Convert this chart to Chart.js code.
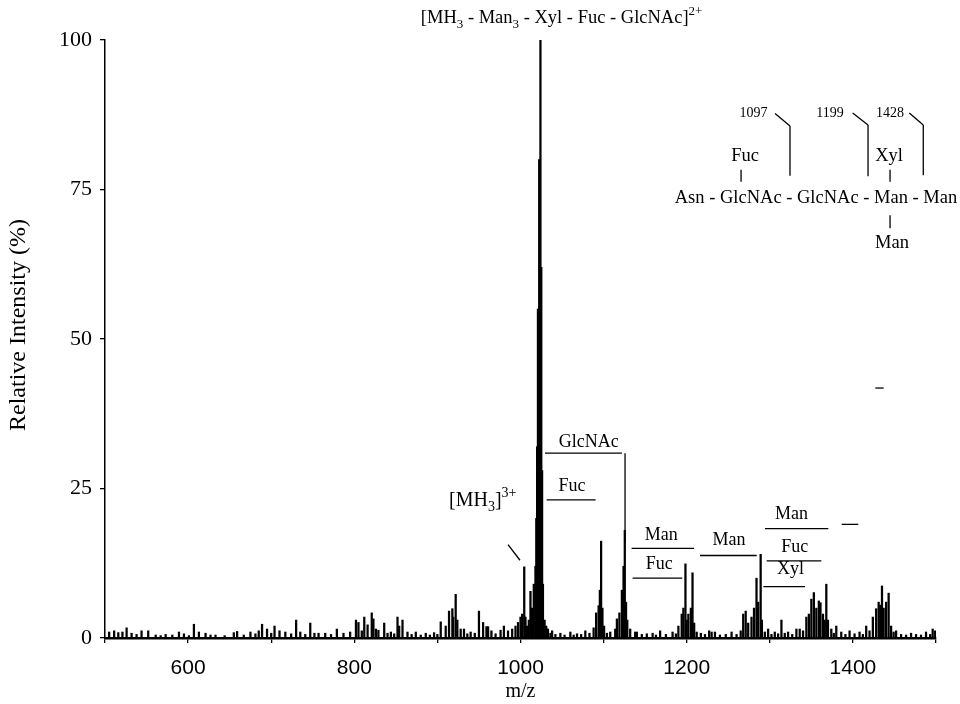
<!DOCTYPE html>
<html>
<head>
<meta charset="utf-8">
<script src="https://cdn.jsdelivr.net/npm/chart.js@4.4.1/dist/chart.umd.min.js"></script>
<style>
  html, body { margin: 0; padding: 0; background: #fff; }
  #wrap { width: 960px; height: 704px; position: relative; }
</style>
</head>
<body>
<div id="wrap"><canvas id="spectrum"></canvas></div>
<script>
// m/z of each peak
var peakMz = [
  505, 511, 516, 521, 526, 532, 538, 544, 552, 561, 567, 573, 581, 589, 595, 601,
  607, 613, 621, 627, 633, 644, 655, 659, 667, 675, 681, 685, 689, 695, 700, 704,
  710, 717, 724, 730, 735, 741, 747, 752, 757, 765, 772, 779, 787, 795, 802, 805,
  809, 812, 816, 821, 823, 826, 829, 836, 840, 844, 848, 852, 854, 858, 864, 869,
  874, 880, 886, 891, 896, 900, 904, 910, 914, 918, 919, 922, 924, 928, 932, 936,
  940, 945, 950, 955, 959, 961, 965, 970, 976, 980, 985, 990, 994, 997, 1000, 1002,
  1004.5, 1006, 1008, 1010, 1012, 1014, 1016, 1018, 1019, 1020, 1021, 1022.5, 1024, 1025, 1026, 1027,
  1029, 1031, 1033, 1036, 1038, 1042, 1048, 1053, 1060, 1064, 1068, 1073, 1078, 1083, 1088, 1091,
  1094, 1095.5, 1097, 1098.6, 1100.6, 1104, 1108, 1114, 1116, 1119, 1122, 1124, 1125.5, 1127, 1128.5, 1132,
  1138, 1140, 1146, 1152, 1159, 1163, 1168, 1175, 1183, 1187, 1190, 1194, 1196, 1198.5, 1200, 1202,
  1205, 1207, 1209, 1212, 1217, 1222, 1227, 1230, 1234, 1240, 1247, 1254, 1260, 1265, 1268, 1271,
  1274, 1278, 1281, 1284, 1286, 1289, 1290.5, 1294, 1298, 1302, 1306, 1310, 1314, 1318, 1322, 1327,
  1332, 1336, 1340, 1344, 1347, 1350, 1353, 1356, 1359, 1361, 1364, 1366, 1368, 1370, 1374, 1377,
  1380, 1386, 1391, 1396, 1402, 1408, 1412, 1416, 1420, 1424, 1428, 1431, 1433, 1435, 1437, 1440,
  1443, 1446, 1449, 1452, 1458, 1464, 1470, 1476, 1482, 1488, 1493, 1496, 1499
];
// relative intensity (%) of each peak, same order
var peakInt = [
  1.0, 1.2, 0.9, 1.0, 1.7, 0.8, 0.6, 1.2, 1.2, 0.5, 0.4, 0.6, 0.5, 1.0, 0.7, 0.4,
  2.3, 1.0, 0.8, 0.5, 0.5, 0.4, 0.9, 1.1, 0.5, 1.0, 0.7, 1.2, 2.3, 1.5, 0.8, 2.0,
  1.2, 1.0, 0.7, 3.0, 1.0, 0.6, 2.5, 0.8, 0.8, 0.8, 0.6, 1.5, 0.8, 1.0, 3.0, 2.6,
  1.2, 3.5, 2.2, 4.2, 3.2, 1.5, 1.3, 2.5, 0.8, 1.0, 0.7, 3.5, 2.0, 3.0, 1.0, 0.6,
  1.0, 0.5, 0.8, 0.5, 0.9, 0.6, 2.7, 2.0, 4.5, 4.9, 3.5, 7.3, 3.0, 1.5, 1.5, 0.7,
  1.0, 0.8, 4.5, 2.6, 1.9, 1.9, 1.2, 0.7, 1.3, 2.0, 1.2, 1.5, 2.0, 2.6, 3.5, 4.0,
  11.9, 3.5, 2.0, 3.0, 7.8, 5.0, 9.0, 12, 20, 32, 55, 80, 100, 62, 28, 9,
  3.0, 2.0, 1.5, 0.8, 1.2, 0.6, 0.8, 0.5, 1.0, 0.5, 0.7, 0.6, 1.2, 0.8, 1.7, 4.2,
  5.4, 8.0, 16.2, 5.0, 2.0, 0.8, 1.0, 1.5, 3.2, 4.2, 8.0, 12, 18, 6.0, 3.0, 1.5,
  1.0, 1.0, 0.6, 0.7, 0.8, 0.5, 1.2, 0.6, 1.0, 0.7, 2.0, 4.0, 5.0, 12.4, 3.0, 4.0,
  5.0, 10.9, 2.5, 1.0, 0.8, 0.6, 1.2, 1.0, 1.0, 0.5, 0.6, 1.0, 0.6, 1.2, 4.0, 4.5,
  2.5, 3.5, 5.0, 10, 6.0, 14, 3.0, 1.0, 1.5, 0.6, 1.0, 0.7, 3.0, 0.8, 1.0, 0.6,
  1.5, 1.5, 1.2, 3.5, 4.0, 6.5, 7.6, 5.0, 6.2, 5.9, 4.0, 3.0, 9.0, 3.0, 1.5, 0.8,
  2.0, 1.0, 0.6, 1.2, 0.7, 1.0, 0.6, 2.0, 1.2, 3.5, 4.9, 6.0, 5.5, 8.7, 5.0, 6.0,
  7.5, 2.0, 1.0, 1.2, 0.6, 0.5, 0.8, 0.6, 0.5, 1.0, 0.6, 1.5, 1.2
];
var yTicks = [0, 25, 50, 75, 100];
var xTickLabels = [600, 800, 1000, 1200, 1400];

// fragment labels and their bracket lines, in data units (m/z, %)
var fragLabels = [
  { text: 'GlcNAc', x: 1082, y: 32.7 },
  { text: 'Fuc', x: 1062, y: 25.4 },
  { text: 'Man', x: 1169.5, y: 17.2 },
  { text: 'Fuc', x: 1167, y: 12.4 },
  { text: 'Man', x: 1251, y: 16.3 },
  { text: 'Man', x: 1326, y: 20.7 },
  { text: 'Fuc', x: 1330, y: 15.1 },
  { text: 'Xyl', x: 1325, y: 11.5 }
];
var fragLines = [
  [1029.5, 30.9, 1122, 30.9], [1125.8, 30.9, 1125.8, 16],
  [1031.5, 23.1, 1090.4, 23.1],
  [1133.7, 15.0, 1208.8, 15.0],
  [1134.9, 10.0, 1194.6, 10.0],
  [1216, 13.8, 1284.2, 13.8],
  [1294.2, 18.3, 1370.4, 18.3], [1386.5, 19.0, 1406.5, 19.0],
  [1296.2, 12.9, 1362, 12.9],
  [1292.2, 8.6, 1342.4, 8.6],
  [1427, 41.8, 1437, 41.8],
  [985, 15.6, 999.4, 13.0]
];
// glycan structure sketch, upper right
var structLabels = [
  { text: '1097', x: 1280.4, y: 87.8, size: 14 },
  { text: '1199', x: 1372.5, y: 87.8, size: 14 },
  { text: '1428', x: 1444.7, y: 87.8, size: 14 },
  { text: 'Fuc', x: 1270.2, y: 80.6, size: 18.5 },
  { text: 'Xyl', x: 1443.5, y: 80.6, size: 18.5 },
  { text: 'Asn - GlcNAc - GlcNAc - Man - Man', x: 1355.6, y: 73.5, size: 18.5 },
  { text: 'Man', x: 1447.1, y: 66.0, size: 18.5 }
];
var structLines = [
  [1306.3, 87.7, 1324.3, 85.6], [1324.3, 85.6, 1324.3, 77.3],
  [1399.7, 87.8, 1418.2, 85.8], [1418.2, 85.8, 1418.2, 77.2],
  [1467.9, 87.8, 1484.7, 85.8], [1484.7, 85.8, 1484.7, 77.4],
  [1265.4, 78.3, 1265.4, 76.3],
  [1444.7, 78.3, 1444.7, 76.3],
  [1444.7, 70.7, 1444.7, 68.5]
];

var serif = '"Liberation Serif", "Times New Roman", serif';
var sans = '"Liberation Sans", Arial, sans-serif';

// text with sub / superscripts: parts = [[text, 'n'|'sub'|'sup'], ...]
function drawRich(ctx, parts, x, y, size) {
  ctx.textBaseline = 'alphabetic';
  ctx.textAlign = 'left';
  var cx = x;
  parts.forEach(function (p) {
    var s = p[1] === 'n' ? size : Math.round(size * 0.68);
    var dy = p[1] === 'sub' ? size * 0.28 : (p[1] === 'sup' ? -size * 0.42 : 0);
    ctx.font = s + 'px ' + serif;
    ctx.fillText(p[0], cx, y + dy);
    cx += ctx.measureText(p[0]).width;
  });
}

var annotations = {
  id: 'annotations',
  afterDatasetsDraw: function (chart) {
    var ctx = chart.ctx, xs = chart.scales.x, ys = chart.scales.y;
    var px = function (v) { return xs.getPixelForValue(v); };
    var py = function (v) { return ys.getPixelForValue(v); };
    ctx.save();
    ctx.fillStyle = '#000';
    ctx.strokeStyle = '#000';
    ctx.lineWidth = 1.3;
    fragLines.concat(structLines).forEach(function (l) {
      ctx.beginPath();
      ctx.moveTo(px(l[0]), py(l[1]));
      ctx.lineTo(px(l[2]), py(l[3]));
      ctx.stroke();
    });
    ctx.textAlign = 'center';
    ctx.textBaseline = 'middle';
    fragLabels.forEach(function (t) {
      ctx.font = '18px ' + serif;
      ctx.fillText(t.text, px(t.x), py(t.y));
    });
    structLabels.forEach(function (t) {
      ctx.font = t.size + 'px ' + serif;
      ctx.fillText(t.text, px(t.x), py(t.y));
    });
    drawRich(ctx, [['[MH', 'n'], ['3', 'sub'], [' - Man', 'n'], ['3', 'sub'],
      [' - Xyl - Fuc - GlcNAc]', 'n'], ['2+', 'sup']], px(880), py(102.8), 18.5);
    drawRich(ctx, [['[MH', 'n'], ['3', 'sub'], [']', 'n'], ['3+', 'sup']],
      px(914), py(22.1), 20);

    // y axis title, placed to match the original figure
    ctx.save();
    ctx.translate(19, 325);
    ctx.rotate(-Math.PI / 2);
    ctx.textAlign = 'center';
    ctx.textBaseline = 'middle';
    ctx.font = '24px ' + serif;
    ctx.fillText('Relative Intensity (%)', 0, 0);
    ctx.restore();
    ctx.restore();
  }
};

var ctx = document.getElementById('spectrum');
var chart = new Chart(ctx, {
  type: 'bar',
  data: {
    datasets: [{
      data: peakMz.map(function (m, i) { return { x: m, y: peakInt[i] }; }),
      backgroundColor: '#000',
      borderWidth: 0,
      barThickness: 1.6
    }]
  },
  options: {
    responsive: true,
    maintainAspectRatio: false,
    animation: false,
    layout: { padding: { top: 40, right: 24, left: 0, bottom: 0 } },
    plugins: { legend: { display: false }, tooltip: { enabled: false } },
    scales: {
      x: {
        type: 'linear',
        offset: false,
        min: 500,
        max: 1500,
        afterFit: function (scale) { scale.height = 66; },
        ticks: {
          stepSize: 100,
          autoSkip: false,
          maxRotation: 0,
          padding: 13,
          color: '#000',
          font: { family: sans, size: 21 },
          callback: function (v) { return xTickLabels.indexOf(v) >= 0 ? String(v) : ''; }
        },
        grid: { offset: false, drawOnChartArea: false, drawTicks: true, tickLength: 5, color: '#000', lineWidth: 1.3 },
        border: { color: '#000', width: 2.5 },
        title: {
          display: true,
          text: 'm/z',
          color: '#000',
          font: { family: serif, size: 20 },
          padding: { top: 0, bottom: 0 }
        }
      },
      y: {
        min: 0,
        max: 100,
        afterFit: function (scale) { scale.width = 105; },
        afterBuildTicks: function (scale) {
          scale.ticks = yTicks.map(function (v) { return { value: v }; });
        },
        ticks: {
          padding: 8,
          color: '#000',
          font: { family: serif, size: 22 }
        },
        grid: { drawOnChartArea: false, drawTicks: true, tickLength: 5, color: '#000', lineWidth: 1.3 },
        border: { color: '#000', width: 1.5 },
        title: { display: false }
      }
    }
  },
  plugins: [annotations]
});
</script>
</body>
</html>
